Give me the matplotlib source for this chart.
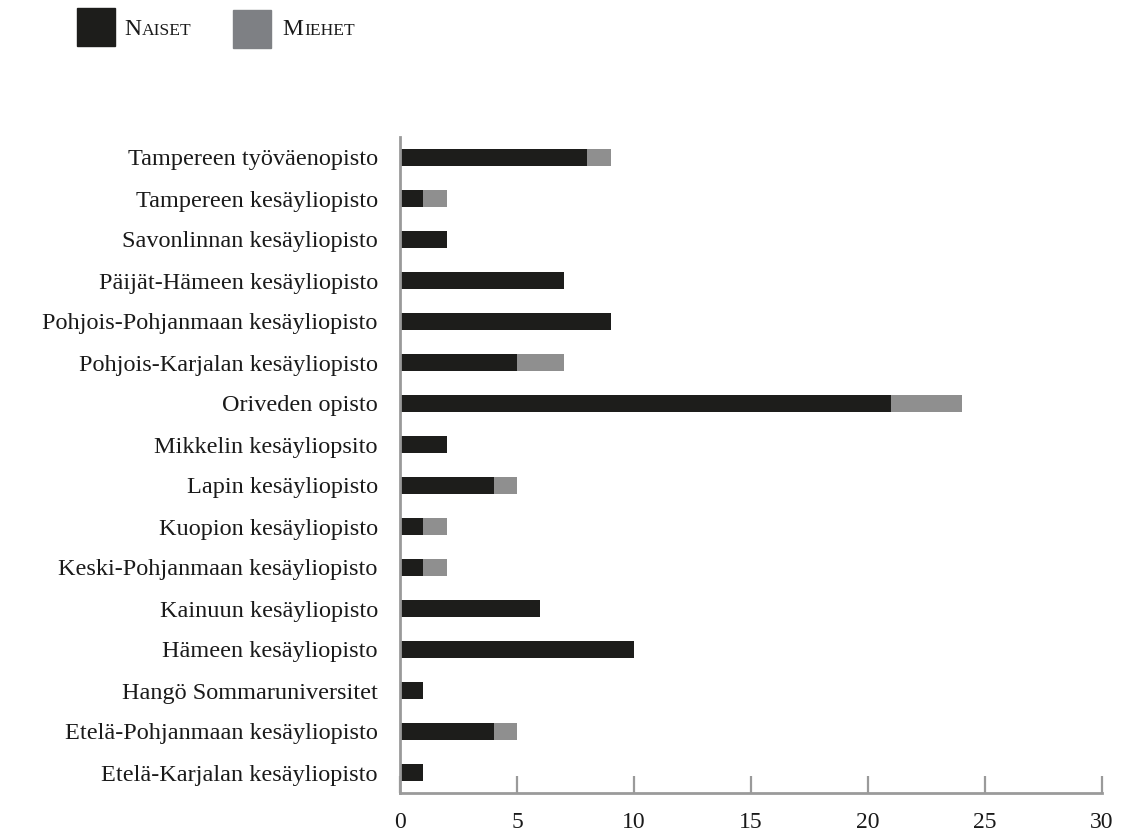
import matplotlib
matplotlib.use("Agg")
import matplotlib.pyplot as plt
import matplotlib.patches as mpatches

plt.rcParams['font.family'] = ['Liberation Serif', 'DejaVu Serif']

# data, top to bottom as in the chart
schools = ["Tampereen työväenopisto", "Tampereen kesäyliopisto",
           "Savonlinnan kesäyliopisto", "Päijät-Hämeen kesäyliopisto",
           "Pohjois-Pohjanmaan kesäyliopisto", "Pohjois-Karjalan kesäyliopisto",
           "Oriveden opisto", "Mikkelin kesäyliopsito", "Lapin kesäyliopisto",
           "Kuopion kesäyliopisto", "Keski-Pohjanmaan kesäyliopisto",
           "Kainuun kesäyliopisto", "Hämeen kesäyliopisto",
           "Hangö Sommaruniversitet", "Etelä-Pohjanmaan kesäyliopisto",
           "Etelä-Karjalan kesäyliopisto"]
naiset = [8, 1, 2, 7, 9, 5, 21, 2, 4, 1, 1, 6, 10, 1, 4, 1]
miehet = [1, 1, 0, 0, 0, 2, 3, 0, 1, 1, 1, 0, 0, 0, 1, 0]
xticks = [0, 5, 10, 15, 20, 25, 30]
legend_labels = ["Naiset", "Miehet"]

black = "#1d1d1b"
gray = "#8f8f8f"
axcol = "#9a9a9a"
textcol = "#1a1a1a"

fig = plt.figure(figsize=(11.22, 8.34), dpi=100)
ax = fig.add_axes([400/1122, 1-793/834, 702/1122, (793-137)/834])

pos = list(range(len(schools)))[::-1]
ax.barh(pos, naiset, height=0.42, color=black)
ax.barh(pos, miehet, left=naiset, height=0.42, color=gray)

ax.set_xlim(0, 30)
ax.set_ylim(-0.5, len(schools) - 0.5)
ax.set_yticks(pos)
ax.set_yticklabels(schools, fontsize=17.5, color=textcol)
ax.set_xticks(xticks)
ax.set_xticklabels([str(t) for t in xticks], fontsize=17, color=textcol)
ax.tick_params(axis='y', length=0, pad=16)
ax.tick_params(axis='x', direction='in', length=12, width=1.6, color=axcol, pad=14)
for s in ['top', 'right']:
    ax.spines[s].set_visible(False)
for s in ['left', 'bottom']:
    ax.spines[s].set_color(axcol)
    ax.spines[s].set_linewidth(2)

# legend drawn by hand, labels in small caps
renderer = fig.canvas.get_renderer()
def smallcaps(x, y, word, size=17):
    t1 = fig.text(x, y, word[0], fontsize=size, va='baseline', color=textcol)
    x1 = t1.get_window_extent(renderer).x1
    fig.text(fig.transFigure.inverted().transform((x1 + 1, 0))[0], y,
             word[1:].upper(), fontsize=size*0.74, va='baseline', color=textcol)

fig.add_artist(mpatches.Rectangle((77/1122, 1-46/834), 38/1122, 38/834,
                                  transform=fig.transFigure, color=black))
fig.add_artist(mpatches.Rectangle((233/1122, 1-48/834), 38/1122, 38/834,
                                  transform=fig.transFigure, color="#7e8084"))
smallcaps(124/1122, 1-35/834, legend_labels[0])
smallcaps(282/1122, 1-35/834, legend_labels[1])

fig.savefig("out.png", dpi=100)
